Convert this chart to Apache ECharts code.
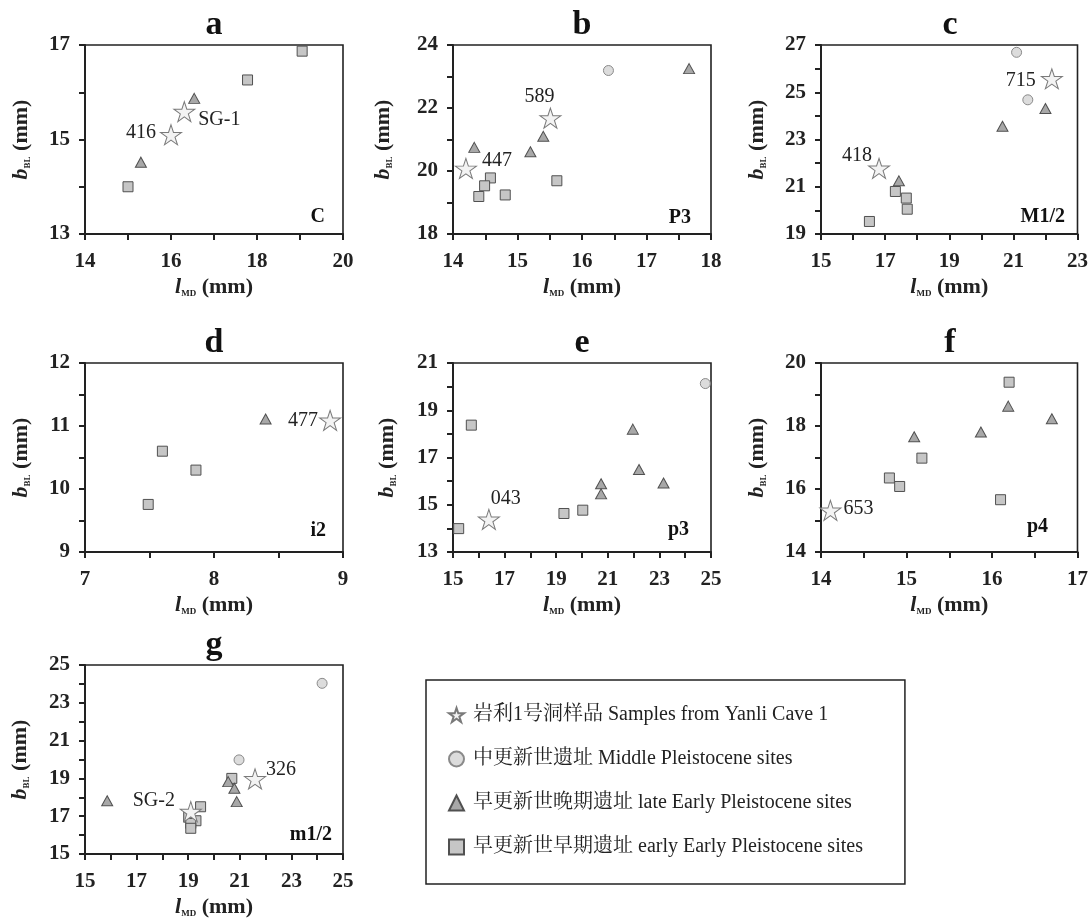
<!DOCTYPE html>
<html>
<head>
<meta charset="utf-8">
<script src="https://cdn.jsdelivr.net/npm/echarts@6/dist/echarts.min.js"></script>
<style>
html,body{margin:0;padding:0;background:#fff;}
#chart{width:1091px;height:922px;}
</style>
</head>
<body>
<div id="chart"></div>
<script>
// ---------------- DATA ----------------
const panelLetters = ['a','b','c','d','e','f','g'];
const toothLabels = ['C','P3','M1/2','i2','p3','p4','m1/2'];
const xRanges = [[14,20],[14,18],[15,23],[7,9],[15,25],[14,17],[15,25]];
const yRanges = [[13,17],[18,24],[19,27],[9,12],[13,21],[14,20],[15,25]];
const xTickStep = [1,0.5,1,0.5,1,0.5,1];
const yTickStep = [1,1,1,0.5,1,1,1];
const xLabelStep = [2,1,2,1,2,1,2];
const yLabelStep = [2,2,2,1,2,2,2];
const groupNames = [
  '岩利1号洞样品 Samples from Yanli Cave 1',
  '中更新世遗址 Middle Pleistocene sites',
  '早更新世晚期遗址 late Early Pleistocene sites',
  '早更新世早期遗址 early Early Pleistocene sites'
];

// panel a (C)
const aStar = [[16.0,15.1,'416'],[16.31,15.59,'SG-1']];
const aCircle = [];
const aTriangle = [[15.3,14.52],[16.54,15.87]];
const aSquare = [[15.0,14.0],[17.78,16.26],[19.05,16.87]];
// panel b (P3)
const bStar = [[14.2,20.08,'447'],[15.51,21.68,'589']];
const bCircle = [[16.41,23.19]];
const bTriangle = [[17.66,23.25],[15.40,21.10],[15.20,20.61],[14.33,20.75]];
const bSquare = [[14.58,19.78],[14.49,19.53],[14.40,19.19],[14.81,19.24],[15.61,19.69]];
// panel c (M1/2)
const cStar = [[16.81,21.78,'418'],[22.2,25.57,'715']];
const cCircle = [[21.1,26.69],[21.45,24.68]];
const cTriangle = [[22.0,24.31],[20.66,23.56],[17.43,21.25]];
const cSquare = [[17.32,20.8],[17.66,20.52],[17.69,20.05],[16.51,19.53]];
// panel d (i2)
const dStar = [[8.9,11.09,'477']];
const dCircle = [];
const dTriangle = [[8.4,11.11]];
const dSquare = [[7.6,10.6],[7.86,10.3],[7.49,9.755]];
// panel e (p3)
const eStar = [[16.39,14.38,'043']];
const eCircle = [[24.78,20.13]];
const eTriangle = [[21.97,18.2],[22.21,16.49],[20.74,15.89],[23.16,15.92],[20.74,15.46]];
const eSquare = [[15.71,18.37],[19.3,14.63],[20.03,14.77],[15.22,13.99]];
// panel f (p4)
const fStar = [[14.11,15.32,'653']];
const fCircle = [];
const fTriangle = [[16.19,18.63],[16.7,18.23],[15.87,17.81],[15.09,17.66]];
const fSquare = [[16.2,19.39],[15.18,16.98],[14.8,16.35],[14.92,16.08],[16.1,15.66]];
// panel g (m1/2)
const gStar = [[19.1,17.24,'SG-2'],[21.59,18.97,'326']];
const gCircle = [[24.19,24.03],[20.97,19.98]];
const gTriangle = [[15.86,17.82],[20.55,18.83],[20.79,18.48],[20.88,17.77]];
const gSquare = [[20.69,19.0],[19.02,16.95],[19.48,17.5],[19.3,16.76],[19.1,16.62],[19.1,16.36]];

// ---------------- STYLE / LAYOUT ----------------
const FONT = "'Liberation Serif','Times New Roman',serif";
const LEG_FONT = "'Liberation Serif','Noto Serif CJK SC','Noto Sans CJK SC',serif";
const colLeft = [85, 453, 821];
const rowTop = [45, 363, 665];
const GW = 258, GH = 189;
const panelCell = [[0,0],[1,0],[2,0],[0,1],[1,1],[2,1],[0,2]];
const yNameGap = [53,59,53,53,55,53,54];
const cornerInset = [[18,17],[20,16],[14,17],[17,21],[22,22],[31,25],[11,19]];
const starLabelOffset = {
  '416':[-30,-2], 'SG-1':[35,8], '589':[-11,-21], '447':[31,-8],
  '418':[-22,-13], '715':[-31,2], '477':[-27,0], '043':[17,-21],
  '653':[28,-2], 'SG-2':[-37,-11], '326':[26,-9]
};
const STAR_PATH = 'path://M50 0 L61.23 34.55 L97.55 34.55 L68.16 55.9 L79.39 90.45 L50 69.1 L20.61 90.45 L31.84 55.9 L2.45 34.55 L38.77 34.55 Z';
const groupStyle = {
  Star:     {gi:0, symbol:STAR_PATH, size:[21,20], fill:'#f3f3f3', stroke:'#7a7a7a', lw:1},
  Circle:   {gi:1, symbol:'circle', size:10, fill:'#dcdcdc', stroke:'#8a8a8a', lw:1},
  Triangle: {gi:2, symbol:'triangle', size:[11,10], fill:'#a8a8a8', stroke:'#505050', lw:1},
  Square:   {gi:3, symbol:'rect', size:10, fill:'#c6c6c6', stroke:'#505050', lw:1}
};
const panelData = [
  {Star:aStar,Circle:aCircle,Triangle:aTriangle,Square:aSquare},
  {Star:bStar,Circle:bCircle,Triangle:bTriangle,Square:bSquare},
  {Star:cStar,Circle:cCircle,Triangle:cTriangle,Square:cSquare},
  {Star:dStar,Circle:dCircle,Triangle:dTriangle,Square:dSquare},
  {Star:eStar,Circle:eCircle,Triangle:eTriangle,Square:eSquare},
  {Star:fStar,Circle:fCircle,Triangle:fTriangle,Square:fSquare},
  {Star:gStar,Circle:gCircle,Triangle:gTriangle,Square:gSquare}
];

function labelled(v, min, step){
  const k = (v - min) / step;
  return Math.abs(k - Math.round(k)) < 1e-6;
}
const nameRich = {
  i: {fontFamily:FONT, fontSize:22, fontStyle:'italic', fontWeight:'bold', color:'#222', lineHeight:22},
  s: {fontFamily:FONT, fontSize:9, fontWeight:'bold', color:'#222', lineHeight:12, verticalAlign:'bottom'},
  n: {fontFamily:FONT, fontSize:22, fontWeight:'bold', color:'#222', lineHeight:22}
};

const grids = [], xAxes = [], yAxes = [], series = [], graphics = [];
panelLetters.forEach((L, i) => {
  const [c, r] = panelCell[i];
  const left = colLeft[c], top = rowTop[r];
  grids.push({left:left, top:top, width:GW, height:GH, show:true, borderColor:'#222', borderWidth:1.6, containLabel:false});
  const axisCommon = {
    gridIndex:i, type:'value',
    axisLine:{show:true, onZero:false, lineStyle:{color:'#222', width:2}},
    axisTick:{show:true, length:6, lineStyle:{color:'#222', width:2}},
    splitLine:{show:false}
  };
  xAxes.push(Object.assign({}, axisCommon, {
    min:xRanges[i][0], max:xRanges[i][1], interval:xTickStep[i],
    axisLabel:{margin:17, fontFamily:FONT, fontSize:21, fontWeight:'bold', color:'#222',
      formatter: v => labelled(v, xRanges[i][0], xLabelStep[i]) ? String(v) : ''},
    name:'{i|l}{s|MD}{n| (mm)}', nameLocation:'middle', nameGap:42,
    nameTextStyle:{rich:nameRich}
  }));
  yAxes.push(Object.assign({}, axisCommon, {
    min:yRanges[i][0], max:yRanges[i][1], interval:yTickStep[i],
    axisLabel:{margin:15, fontFamily:FONT, fontSize:21, fontWeight:'bold', color:'#222',
      formatter: v => labelled(v, yRanges[i][0], yLabelStep[i]) ? String(v) : ''},
    name:'{i|b}{s|BL}{n| (mm)}', nameLocation:'middle', nameGap:yNameGap[i],
    nameTextStyle:{rich:nameRich}
  }));
  ['Square','Triangle','Circle','Star'].forEach(key => {
    const st = groupStyle[key];
    const arr = panelData[i][key];
    const data = arr.map(d => {
      const item = {value:[d[0], d[1]]};
      if (key === 'Star') {
        item.name = d[2];
        item.label = {show:true, position:'inside', formatter:d[2], offset:starLabelOffset[d[2]]};
      }
      return item;
    });
    series.push({
      type:'scatter', name:groupNames[st.gi], xAxisIndex:i, yAxisIndex:i,
      symbol:st.symbol, symbolSize:st.size, clip:false,
      itemStyle:{color:st.fill, borderColor:st.stroke, borderWidth:st.lw, opacity:1},
      label:{show:false, color:'#222', fontFamily:FONT, fontSize:20, fontWeight:'normal'},
      emphasis:{disabled:true},
      z: key === 'Star' ? 5 : 3,
      data:data
    });
  });
  graphics.push({type:'text', x:left + GW/2, y:top - 20,
    style:{text:L, font:'bold 34px ' + FONT, fill:'#111', textAlign:'center', textVerticalAlign:'middle', align:'center', verticalAlign:'middle'}});
  graphics.push({type:'text', x:left + GW - cornerInset[i][0], y:top + GH - cornerInset[i][1],
    style:{text:toothLabels[i], font:'bold 20px ' + FONT, fill:'#111', textAlign:'right', textVerticalAlign:'middle', align:'right', verticalAlign:'middle'}});
});

const chart = echarts.init(document.getElementById('chart'), null, {renderer:'canvas'});
chart.setOption({
  backgroundColor:'#ffffff',
  animation:false,
  grid:grids, xAxis:xAxes, yAxis:yAxes, series:series,
  graphic:graphics,
  legend:{
    data:groupNames, orient:'vertical', left:426, top:680,
    padding:[25,42,27,22], itemGap:24, itemWidth:15, itemHeight:15,
    borderColor:'#222', borderWidth:1.5, selectedMode:false,
    textStyle:{fontFamily:LEG_FONT, fontSize:20, color:'#222', padding:[0,0,0,4]}
  }
});
</script>
</body>
</html>
